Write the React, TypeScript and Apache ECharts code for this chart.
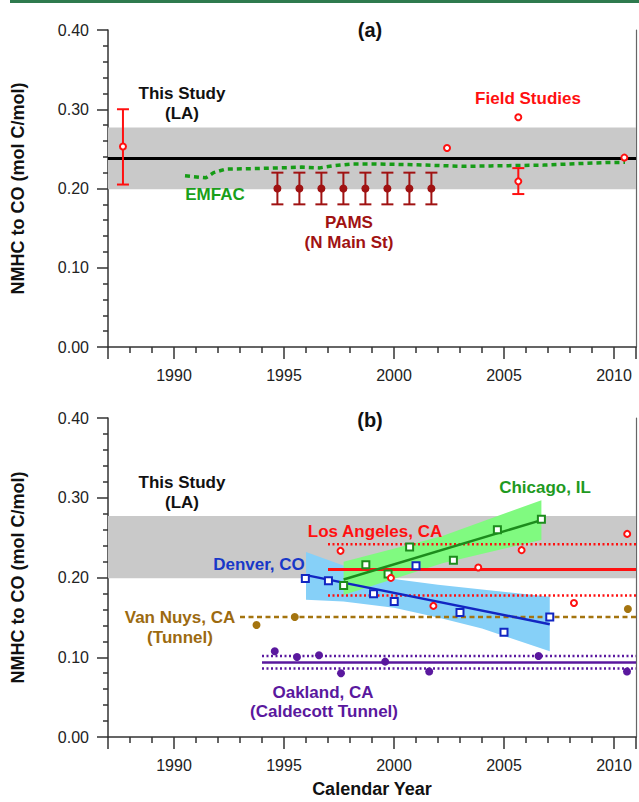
import React, { useEffect, useRef } from 'react';
import * as echarts from 'echarts';

// ---------- axis ranges / ticks ----------
const X_MIN = 1987;
const X_MAX = 2011;
const Y_MIN = 0;
const Y_MAX = 0.4;
const Y_INTERVAL = 0.1;
const xTickLabels = [1990, 1995, 2000, 2005, 2010];

// ---------- "This Study (LA)" ----------
const thisStudyMean = 0.238;
const thisStudyLow = 0.199;
const thisStudyHigh = 0.277;

// ---------- panel (a) ----------
const emfacYears = [1990.5, 1991.45, 1991.8, 1992.35, 1993.4, 1994.8, 1995.8, 1996.6, 1997.2, 1998.1, 1999.1, 2000.9, 2003.1, 2004.4, 2006.8, 2008.0, 2009.7, 2010.5];
const emfacValues = [0.216, 0.2135, 0.22, 0.2245, 0.225, 0.226, 0.227, 0.226, 0.2285, 0.231, 0.231, 0.23, 0.228, 0.2285, 0.2295, 0.231, 0.2328, 0.233];

const pamsYears = [1994.7, 1995.7, 1996.7, 1997.7, 1998.7, 1999.7, 2000.7, 2001.7];
const pamsValues = [0.2, 0.2, 0.2, 0.2, 0.2, 0.2, 0.2, 0.2];
const pamsLow = [0.18, 0.18, 0.18, 0.18, 0.18, 0.18, 0.18, 0.18];
const pamsHigh = [0.22, 0.22, 0.22, 0.22, 0.22, 0.22, 0.22, 0.22];

const fieldYears = [1987.68, 2002.41, 2005.65, 2005.65, 2010.47];
const fieldValues = [0.253, 0.251, 0.29, 0.209, 0.239];
const fieldErrYears = [1987.68, 2005.65];
const fieldErrLow = [0.205, 0.193];
const fieldErrHigh = [0.3, 0.2257];

// ---------- panel (b) ----------
const chicagoYears = [1997.71, 1998.72, 1999.73, 2000.71, 2002.7, 2004.7, 2006.7];
const chicagoValues = [0.19, 0.216, 0.2045, 0.2384, 0.2217, 0.26, 0.273];
const chicagoFitYears = [1997.71, 2006.7];
const chicagoFitValues = [0.1975, 0.272];
const chicagoBandYears = [1997.71, 2002.2, 2006.7];
const chicagoBandLow = [0.178, 0.218, 0.247];
const chicagoBandHigh = [0.2196, 0.252, 0.297];

const denverYears = [1995.97, 1997.02, 1999.07, 2000.01, 2001.0, 2003.0, 2005.0, 2007.08];
const denverValues = [0.1987, 0.196, 0.1795, 0.17, 0.2146, 0.156, 0.1314, 0.1506];
const denverFitYears = [1996.0, 2007.08];
const denverFitValues = [0.203, 0.1414];
const denverBandYears = [1996.0, 1997.7, 2000.0, 2002.0, 2004.0, 2007.08];
const denverBandLow = [0.172, 0.17, 0.162, 0.15, 0.136, 0.1075];
const denverBandHigh = [0.232, 0.215, 0.198, 0.191, 0.185, 0.176];

const laYears = [1997.57, 1999.86, 2001.79, 2003.83, 2005.8, 2008.18, 2010.6];
const laValues = [0.2334, 0.1995, 0.1644, 0.2125, 0.2343, 0.168, 0.2547];
const laStart = 1997.0;
const laMean = 0.21;
const laUpper = 0.2418;
const laLower = 0.1774;

const vanNuysYears = [1993.75, 1995.49, 2010.63];
const vanNuysValues = [0.1405, 0.1504, 0.1605];
const vanNuysStart = 1993.0;
const vanNuysMean = 0.1504;

const oaklandYears = [1994.58, 1995.59, 1996.59, 1997.59, 1999.6, 2001.6, 2006.57, 2010.59];
const oaklandValues = [0.1076, 0.1003, 0.1025, 0.08, 0.0945, 0.0822, 0.1015, 0.0822];
const oaklandStart = 1994.0;
const oaklandMean = 0.0933;
const oaklandUpper = 0.1016;
const oaklandLower = 0.0858;

// ---------- styles ----------
const FONT = "'Liberation Sans', Arial, Helvetica, sans-serif";
const GRAY = '#c9c9c9';
const RED = '#ff1010';
const DARK_RED = '#a01212';
const EMFAC_GREEN = '#169c16';
const CHI_GREEN = '#1c8c1c';
const CHI_BAND = '#80fa80';
const BLUE = '#1226c2';
const BLUE_BAND = '#86d0f8';
const BROWN = '#a4740f';
const PURPLE = '#5a189e';
const AXIS = '#333333';

function grayBand(xi: number, yi: number) {
  return {
    type: 'custom', xAxisIndex: xi, yAxisIndex: yi, z: 1, silent: true,
    data: [[X_MIN, thisStudyLow, X_MAX, thisStudyHigh]],
    renderItem: (_p: any, api: any) => {
      const p1 = api.coord([api.value(0), api.value(3)]);
      const p2 = api.coord([api.value(2), api.value(1)]);
      return { type: 'rect', shape: { x: p1[0], y: p1[1], width: p2[0] - p1[0], height: p2[1] - p1[1] }, style: { fill: GRAY } };
    },
  };
}

function polyBand(xs: number[], lo: number[], hi: number[], color: string, xi: number, yi: number, z: number) {
  return {
    type: 'custom', xAxisIndex: xi, yAxisIndex: yi, z, silent: true,
    data: [[xs[0], lo[0]]],
    renderItem: (_p: any, api: any) => {
      const pts = xs.map((x, i) => api.coord([x, hi[i]]));
      for (let i = xs.length - 1; i >= 0; i--) pts.push(api.coord([xs[i], lo[i]]));
      return { type: 'polygon', shape: { points: pts }, style: { fill: color } };
    },
  };
}

function line(xs: number[], ys: number[], color: string, width: number, type: any, xi: number, yi: number, z = 4) {
  return {
    type: 'line', xAxisIndex: xi, yAxisIndex: yi, z, silent: true,
    data: xs.map((x, i) => [x, ys[i]]),
    symbol: 'none', smooth: false,
    lineStyle: { color, width, type },
  };
}

function hLine(x0: number, y: number, color: string, width: number, type: any, xi: number, yi: number, z = 4) {
  return line([x0, X_MAX], [y, y], color, width, type, xi, yi, z);
}

function scatter(xs: number[], ys: number[], symbol: string, size: number, fill: string, stroke: string, bw: number, xi: number, yi: number, z = 6) {
  return {
    type: 'scatter', xAxisIndex: xi, yAxisIndex: yi, z, silent: true,
    data: xs.map((x, i) => [x, ys[i]]),
    symbol, symbolSize: size,
    itemStyle: { color: fill, borderColor: stroke, borderWidth: bw, opacity: 1 },
  };
}

function errorBars(xs: number[], lo: number[], hi: number[], color: string, cap: number, xi: number, yi: number, z = 5) {
  return {
    type: 'custom', xAxisIndex: xi, yAxisIndex: yi, z, silent: true,
    data: xs.map((x, i) => [x, lo[i], hi[i]]),
    encode: { x: 0, y: [1, 2] },
    renderItem: (_p: any, api: any) => {
      const x = api.value(0);
      const a = api.coord([x, api.value(1)]);
      const b = api.coord([x, api.value(2)]);
      const style = { stroke: color, lineWidth: 2, fill: 'none' };
      return {
        type: 'group',
        children: [
          { type: 'line', shape: { x1: a[0], y1: a[1], x2: b[0], y2: b[1] }, style },
          { type: 'line', shape: { x1: a[0] - cap, y1: a[1], x2: a[0] + cap, y2: a[1] }, style },
          { type: 'line', shape: { x1: b[0] - cap, y1: b[1], x2: b[0] + cap, y2: b[1] }, style },
        ],
      };
    },
  };
}

function makeXAxis(gridIndex: number, withName: boolean) {
  return {
    type: 'value', gridIndex, min: X_MIN, max: X_MAX, splitNumber: 5,
    position: 'bottom',
    name: withName ? 'Calendar Year' : '',
    nameLocation: 'middle', nameGap: 43,
    nameTextStyle: { fontFamily: FONT, fontWeight: 'bold', fontSize: 18, color: '#111' },
    axisLine: { show: true, onZero: false, lineStyle: { color: AXIS, width: 1.5 } },
    axisTick: { show: true, inside: false, length: 12, lineStyle: { color: AXIS, width: 1.5 } },
    minorTick: { show: true, splitNumber: 5, length: 6, lineStyle: { color: AXIS, width: 1.5 } },
    splitLine: { show: false },
    axisLabel: {
      margin: 20, fontFamily: FONT, fontSize: 16, color: '#222',
      formatter: (v: number) => (xTickLabels.indexOf(Math.round(v)) >= 0 && Math.abs(v - Math.round(v)) < 1e-6 ? String(Math.round(v)) : ''),
    },
  };
}

function makeYAxes(gridIndex: number) {
  return [
    {
      type: 'value', gridIndex, min: Y_MIN, max: Y_MAX, interval: Y_INTERVAL, position: 'left',
      name: 'NMHC to CO (mol C/mol)', nameLocation: 'middle', nameGap: 81, nameRotate: 90,
      nameTextStyle: { fontFamily: FONT, fontWeight: 'bold', fontSize: 18, color: '#111' },
      axisLine: { show: true, onZero: false, lineStyle: { color: AXIS, width: 1.5 } },
      axisTick: { show: true, inside: false, length: 11, lineStyle: { color: AXIS, width: 1.5 } },
      minorTick: { show: true, splitNumber: 5, length: 5, lineStyle: { color: AXIS, width: 1.5 } },
      splitLine: { show: false },
      axisLabel: { margin: 19, fontFamily: FONT, fontSize: 16, color: '#222', formatter: (v: number) => v.toFixed(2) },
    },
    {
      type: 'value', gridIndex, min: Y_MIN, max: Y_MAX, interval: Y_INTERVAL, position: 'right',
      axisLine: { show: true, onZero: false, lineStyle: { color: '#666', width: 1.2 } },
      axisTick: { show: false }, axisLabel: { show: false }, splitLine: { show: false },
    },
  ];
}

type Label = { text: string; x: number; y: number; color: string; size?: number };
const labels: Label[] = [
  { text: '(a)', x: 370, y: 30, color: '#111', size: 20 },
  { text: 'This Study', x: 182, y: 93, color: '#111' },
  { text: '(LA)', x: 182, y: 113, color: '#111' },
  { text: 'Field Studies', x: 528, y: 98, color: RED },
  { text: 'EMFAC', x: 215, y: 194, color: '#1aa01a' },
  { text: 'PAMS', x: 349, y: 222, color: DARK_RED },
  { text: '(N Main St)', x: 349, y: 242, color: DARK_RED },
  { text: '(b)', x: 370, y: 420, color: '#111', size: 20 },
  { text: 'This Study', x: 182, y: 482, color: '#111' },
  { text: '(LA)', x: 182, y: 502, color: '#111' },
  { text: 'Chicago, IL', x: 545, y: 487, color: '#1f9a1f' },
  { text: 'Los Angeles, CA', x: 375, y: 531, color: RED },
  { text: 'Denver, CO', x: 259, y: 564, color: '#1838c8' },
  { text: 'Van Nuys, CA', x: 180, y: 617, color: '#9c6a10' },
  { text: '(Tunnel)', x: 180, y: 637, color: '#9c6a10' },
  { text: 'Oakland, CA', x: 323, y: 692, color: PURPLE },
  { text: '(Caldecott Tunnel)', x: 324, y: 711, color: PURPLE },
];

export default function App() {
  const ref = useRef<HTMLDivElement>(null);
  useEffect(() => {
    if (!ref.current) return;
    const chart = echarts.init(ref.current, null, { renderer: 'svg' });
    const series: any[] = [
      // panel (a): xAxis 0, yAxis 0
      grayBand(0, 0),
      line([X_MIN, X_MAX], [thisStudyMean, thisStudyMean], '#000', 3, 'solid', 0, 0, 3),
      line(emfacYears, emfacValues, EMFAC_GREEN, 3.5, [5, 4], 0, 0, 4),
      errorBars(pamsYears, pamsLow, pamsHigh, DARK_RED, 6, 0, 0),
      scatter(pamsYears, pamsValues, 'circle', 8, DARK_RED, DARK_RED, 0, 0, 0),
      errorBars(fieldErrYears, fieldErrLow, fieldErrHigh, RED, 6, 0, 0),
      scatter(fieldYears, fieldValues, 'circle', 6, '#fff', RED, 2, 0, 0),
      // panel (b): xAxis 1, yAxis 2
      grayBand(1, 2),
      polyBand(denverBandYears, denverBandLow, denverBandHigh, BLUE_BAND, 1, 2, 2),
      polyBand(chicagoBandYears, chicagoBandLow, chicagoBandHigh, CHI_BAND, 1, 2, 2),
      hLine(laStart, laMean, RED, 3, 'solid', 1, 2),
      hLine(laStart, laUpper, RED, 2.5, [2, 2.5], 1, 2),
      hLine(laStart, laLower, RED, 2.5, [2, 2.5], 1, 2),
      hLine(vanNuysStart, vanNuysMean, BROWN, 2.5, [5, 3.5], 1, 2),
      hLine(oaklandStart, oaklandMean, PURPLE, 2.5, 'solid', 1, 2),
      hLine(oaklandStart, oaklandUpper, PURPLE, 2.5, [2, 2.5], 1, 2),
      hLine(oaklandStart, oaklandLower, PURPLE, 2.5, [2, 2.5], 1, 2),
      line(chicagoFitYears, chicagoFitValues, CHI_GREEN, 2.5, 'solid', 1, 2, 5),
      line(denverFitYears, denverFitValues, BLUE, 2.5, 'solid', 1, 2, 5),
      scatter(chicagoYears, chicagoValues, 'rect', 7, '#fff', CHI_GREEN, 2, 1, 2),
      scatter(denverYears, denverValues, 'rect', 7, '#fff', BLUE, 2, 1, 2),
      scatter(laYears, laValues, 'circle', 6, '#fff', RED, 2, 1, 2),
      scatter(vanNuysYears, vanNuysValues, 'circle', 8, BROWN, BROWN, 0, 1, 2),
      scatter(oaklandYears, oaklandValues, 'circle', 8, PURPLE, PURPLE, 0, 1, 2),
    ];
    chart.setOption({
      animation: false,
      backgroundColor: '#fff',
      grid: [
        { left: 108, top: 30, right: 1, height: 317, containLabel: false },
        { left: 108, top: 418, right: 1, height: 319, containLabel: false },
      ],
      xAxis: [makeXAxis(0, false), makeXAxis(1, true)],
      yAxis: [...makeYAxes(0), ...makeYAxes(1)],
      graphic: [
        { type: 'rect', left: 10, top: 0, shape: { x: 0, y: 0, width: 629, height: 3 }, style: { fill: '#2e7a4e' }, z: 100 },
        ...labels.map((l) => ({
          type: 'text', x: l.x, y: l.y, z: 100,
          style: {
            text: l.text, fill: l.color,
            font: `bold ${l.size || 17}px ${FONT}`,
            align: 'center', verticalAlign: 'middle',
            textAlign: 'center', textVerticalAlign: 'middle',
          },
        })),
      ],
      series,
    });
    return () => chart.dispose();
  }, []);
  return <div ref={ref} style={{ position: 'absolute', left: 0, top: 0, width: 639, height: 802 }} />;
}
